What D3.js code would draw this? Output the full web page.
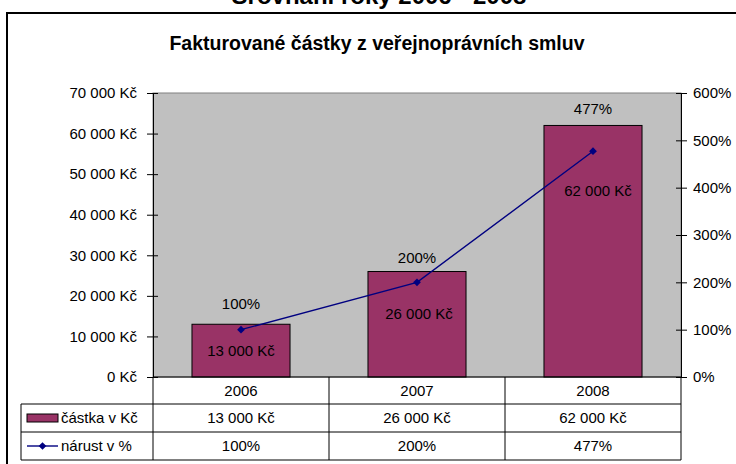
<!DOCTYPE html>
<meta charset="utf-8">
<script src="https://d3js.org/d3.v7.min.js"></script>
<style>
  body { margin: 0; background: #fff; }
  text { font-family: "Liberation Sans", Arial, sans-serif; fill: #000; }
</style>
<div id="chart"></div>
<script>

// data
var years = ["2006", "2007", "2008"];
var amounts = [13000, 26000, 62000];      // částka v Kč
var growth = [100, 200, 477];             // nárust v %
var leftTicks = [0, 10000, 20000, 30000, 40000, 50000, 60000, 70000];
var rightTicks = [0, 100, 200, 300, 400, 500, 600];

// manual label nudges (the original labels were dragged by hand)
var pctLabelDy = [-26, -25, -42];
var barLabelDy = [26, 42, 65];
var barLabelDx = [0, 2, 5];

var width = 736, height = 464;
var plot = { left: 153, right: 681, top: 93, bottom: 377 };

var svg = d3.select("#chart").append("svg")
    .attr("width", width)
    .attr("height", height);

var fmtKc = function(d) { return d3.format(",")(d).replace(/,/g, " ") + " Kč"; };

// outer frame
svg.append("rect")
    .attr("x", 7).attr("y", 13)
    .attr("width", 800).attr("height", 500)
    .attr("fill", "none")
    .attr("stroke", "#000")
    .attr("stroke-width", 2);

// clipped page heading above the frame
svg.append("text")
    .attr("x", 379).attr("y", 4)
    .attr("text-anchor", "middle")
    .style("font-size", "24px")
    .style("font-weight", "bold")
    .text("Srovnání roky 2006 - 2008");

// chart title
svg.append("text")
    .attr("x", 377).attr("y", 50)
    .attr("text-anchor", "middle")
    .style("font-size", "19.5px")
    .style("font-weight", "bold")
    .text("Fakturované částky z veřejnoprávních smluv");

// scales
var x = d3.scaleBand().domain(years).range([plot.left, plot.right]).padding(0);
var y = d3.scaleLinear().domain([0, 70000]).range([plot.bottom, plot.top]);
var yR = d3.scaleLinear().domain([0, 600]).range([plot.bottom, plot.top]);
var barW = x.bandwidth() * 0.557;

// plot area
svg.append("rect")
    .attr("x", plot.left).attr("y", plot.top)
    .attr("width", plot.right - plot.left)
    .attr("height", plot.bottom - plot.top)
    .attr("fill", "#c0c0c0")
    .attr("stroke", "#808080");

// bars
svg.selectAll(".bar")
    .data(amounts)
    .enter()
    .append("rect")
      .attr("class", "bar")
      .attr("x", function(d, i) { return x(years[i]) + (x.bandwidth() - barW) / 2; })
      .attr("y", function(d) { return y(d); })
      .attr("width", barW)
      .attr("height", function(d) { return plot.bottom - y(d); })
      .attr("fill", "#993366")
      .attr("stroke", "#000")
      .attr("stroke-width", 1);

// line
var cx = function(i) { return x(years[i]) + x.bandwidth() / 2; };
var line = d3.line()
    .x(function(d, i) { return cx(i); })
    .y(function(d) { return yR(d); });

svg.append("path")
    .datum(growth)
    .attr("d", line)
    .attr("fill", "none")
    .attr("stroke", "#000080")
    .attr("stroke-width", 1.4);

var diamond = d3.symbol().type(d3.symbolSquare).size(30);
svg.selectAll(".pt")
    .data(growth)
    .enter()
    .append("path")
      .attr("class", "pt")
      .attr("d", diamond)
      .attr("transform", function(d, i) { return "translate(" + cx(i) + "," + yR(d) + ") rotate(45)"; })
      .attr("fill", "#000080");

// data labels
svg.selectAll(".pctLabel")
    .data(growth)
    .enter()
    .append("text")
      .attr("class", "pctLabel")
      .attr("x", function(d, i) { return cx(i); })
      .attr("y", function(d, i) { return yR(d) + pctLabelDy[i]; })
      .attr("dy", "0.35em")
      .attr("text-anchor", "middle")
      .style("font-size", "15px")
      .text(function(d) { return d + "%"; });

svg.selectAll(".barLabel")
    .data(amounts)
    .enter()
    .append("text")
      .attr("class", "barLabel")
      .attr("x", function(d, i) { return cx(i) + barLabelDx[i]; })
      .attr("y", function(d, i) { return y(d) + barLabelDy[i]; })
      .attr("dy", "0.35em")
      .attr("text-anchor", "middle")
      .style("font-size", "15px")
      .text(function(d) { return fmtKc(d); });

// axes
var axL = svg.append("g")
    .attr("transform", "translate(" + plot.left + ",0)")
    .call(d3.axisLeft(y).tickValues(leftTicks).tickSize(6).tickPadding(10).tickFormat(fmtKc));
axL.selectAll(".tick line").attr("x1", 5);

var axR = svg.append("g")
    .attr("transform", "translate(" + plot.right + ",0)")
    .call(d3.axisRight(yR).tickValues(rightTicks).tickSize(6).tickPadding(6).tickFormat(function(d) { return d + "%"; }));
axR.selectAll(".tick line").attr("x1", -5);

[axL, axR].forEach(function(ax) {
  ax.select(".domain").attr("stroke", "#000");
  ax.selectAll(".tick line").attr("stroke", "#000");
  ax.selectAll(".tick text")
    .style("font-size", "15px")
    .style("font-family", "'Liberation Sans', Arial, sans-serif")
    .attr("fill", "#000");
});

// bottom axis line
svg.append("line")
    .attr("x1", plot.left).attr("x2", plot.right)
    .attr("y1", plot.bottom).attr("y2", plot.bottom)
    .attr("stroke", "#000");

// data table
var rows = [377, 404, 432, 460];
var tableLeft = 21;
var grid = svg.append("g").attr("stroke", "#000").attr("stroke-width", 1);

[plot.left].concat(years.map(function(d) { return x(d) + x.bandwidth(); })).forEach(function(xx) {
  grid.append("line")
      .attr("x1", xx).attr("x2", xx)
      .attr("y1", rows[0]).attr("y2", rows[3]);
});
grid.append("line")
    .attr("x1", tableLeft).attr("x2", tableLeft)
    .attr("y1", rows[1]).attr("y2", rows[3]);
rows.slice(1).forEach(function(yy) {
  grid.append("line")
      .attr("x1", tableLeft).attr("x2", plot.right)
      .attr("y1", yy).attr("y2", yy);
});

var rowMid = function(r) { return (rows[r] + rows[r + 1]) / 2; };

svg.selectAll(".catLabel")
    .data(years)
    .enter()
    .append("text")
      .attr("x", function(d, i) { return cx(i); })
      .attr("y", rowMid(0))
      .attr("dy", "0.35em")
      .attr("text-anchor", "middle")
      .style("font-size", "15px")
      .text(function(d) { return d; });

svg.selectAll(".amtCell")
    .data(amounts)
    .enter()
    .append("text")
      .attr("x", function(d, i) { return cx(i); })
      .attr("y", rowMid(1))
      .attr("dy", "0.35em")
      .attr("text-anchor", "middle")
      .style("font-size", "15px")
      .text(function(d) { return fmtKc(d); });

svg.selectAll(".pctCell")
    .data(growth)
    .enter()
    .append("text")
      .attr("x", function(d, i) { return cx(i); })
      .attr("y", rowMid(2))
      .attr("dy", "0.35em")
      .attr("text-anchor", "middle")
      .style("font-size", "15px")
      .text(function(d) { return d + "%"; });

// legend keys in the table
svg.append("rect")
    .attr("x", 27).attr("y", rowMid(1) - 4)
    .attr("width", 31).attr("height", 8)
    .attr("fill", "#993366")
    .attr("stroke", "#000");
svg.append("text")
    .attr("x", 61).attr("y", rowMid(1))
    .attr("dy", "0.35em")
    .style("font-size", "15px")
    .text("částka v Kč");

svg.append("line")
    .attr("x1", 27).attr("x2", 58)
    .attr("y1", rowMid(2)).attr("y2", rowMid(2))
    .attr("stroke", "#000080")
    .attr("stroke-width", 1.4);
svg.append("path")
    .attr("d", diamond)
    .attr("transform", "translate(42.5," + rowMid(2) + ") rotate(45)")
    .attr("fill", "#000080");
svg.append("text")
    .attr("x", 61).attr("y", rowMid(2))
    .attr("dy", "0.35em")
    .style("font-size", "15px")
    .text("nárust v %");

</script>
